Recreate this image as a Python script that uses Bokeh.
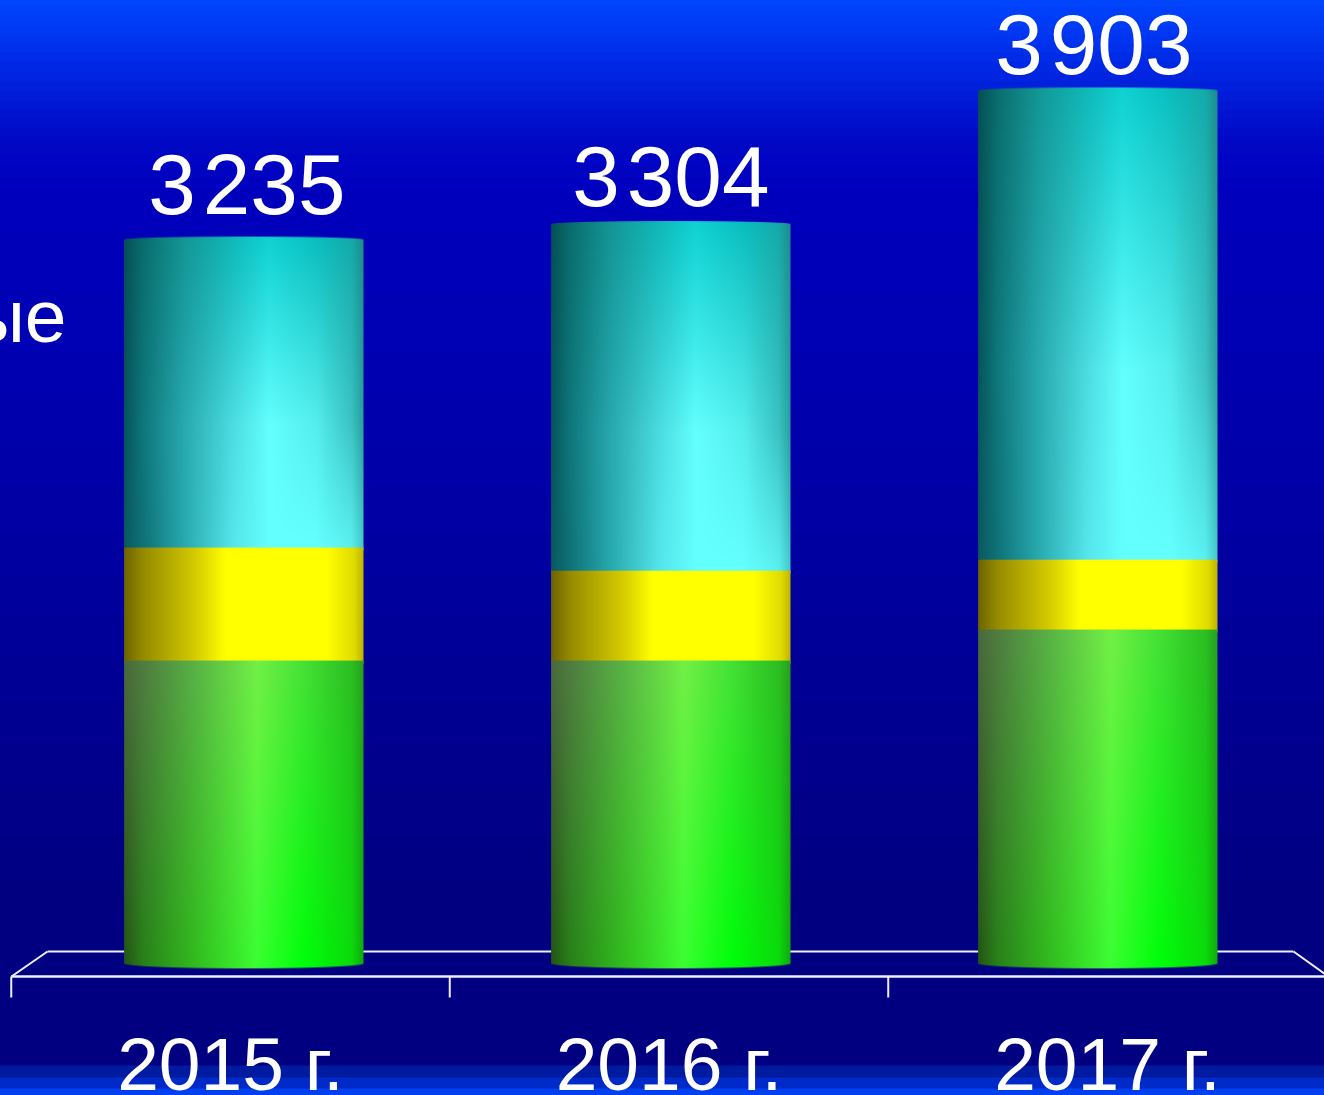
import numpy as np
from bokeh.plotting import figure
from bokeh.models import Range1d
from bokeh.core.properties import value
from bokeh.embed import file_html
from bokeh.resources import INLINE

# ---- chart data -------------------------------------------------------
years = ["2015 г.", "2016 г.", "2017 г."]
green = [1357, 1357, 1495]
yellow = [503, 400, 311]
cyan = [1375, 1547, 2097]
totals = [3235, 3304, 3903]
total_labels = ["3\u200a235", "3\u200a304", "3\u200a903"]
side_label = "ые"

# ---- layout -----------------------------------------------------------
W, H = 1324, 1095
PAD = 2           # the frame runs this far past the window, hiding its clip edge
BASE = 965.0      # pixel row of value 0
K = 0.2247        # pixels per unit
CX0, STEP = 243.3, 427.0
HALF = 119.7 / STEP
AX0, AXSTEP = 230.0, 438.5
FONT = "Liberation Sans"
BASELINE_FIX = 0.36   # em: svg text sits this far below the asked baseline


def val(py):
    return (BASE - py) / K


def ax(px):
    return (px - AX0) / AXSTEP


def pack(rgb, a=None):
    rgb = np.clip(rgb, 0, 255).astype(np.uint32)
    if a is None:
        a = np.full(rgb.shape[:2], 255.0)
    a = np.clip(a, 0, 255).astype(np.uint32)
    return rgb[..., 0] | (rgb[..., 1] << 8) | (rgb[..., 2] << 16) | (a << 24)


p = figure(width=W + 2 * PAD, height=H + 2 * PAD, output_backend="svg", toolbar_location=None,
           x_range=Range1d((-PAD - CX0) / STEP, (W + PAD - CX0) / STEP),
           y_range=Range1d(val(H + PAD), val(-PAD)), min_border=0,
           outline_line_color=None, border_fill_color="#000080",
           background_fill_color="#000080")
p.extra_x_ranges["axis"] = Range1d(ax(-PAD), ax(W + PAD))
p.styles = {"position": "fixed", "left": f"{-PAD}px", "top": f"{-PAD}px"}
p.xaxis.visible = False
p.yaxis.visible = False
p.grid.visible = False

# ---- background gradient ---------------------------------------------
bg_py = np.array([0, 30, 60, 100, 140, 200, 350, 520, 700, 900, 1065])
bg_r = np.zeros(len(bg_py))
bg_g = np.array([70, 58, 44, 28, 10, 0, 0, 0, 0, 0, 0])
bg_b = np.array([255, 245, 232, 215, 200, 190, 180, 165, 148, 130, 128])
OVER = 12
rows = np.arange(-OVER, H + OVER)
bg = np.stack([np.interp(rows, bg_py, bg_r),
               np.interp(rows, bg_py, bg_g),
               np.interp(rows, bg_py, bg_b)], axis=-1)
bg = np.floor(bg / 4) * 4
bg[(rows >= 1065) & (rows < 1077)] = (0, 26, 160)
bg[(rows >= 1077) & (rows < 1088)] = (0, 42, 200)
bg[rows >= 1088] = (0, 64, 240)
bg_img = pack(bg[::-1][:, None, :])
p.image_rgba(image=[bg_img], x=[(-OVER - CX0) / STEP], y=[val(H + OVER)],
             dw=[(W + 2 * OVER) / STEP], dh=[val(-OVER) - val(H + OVER)])

# ---- shading of the cylinders -----------------------------------------
GREEN_T = [0, .08, .3, .55, .75, .95, 1]
GREEN_TOP = [(75, 105, 60), (80, 125, 65), (90, 180, 70), (115, 240, 70),
             (70, 225, 55), (45, 190, 35), (40, 160, 30)]
GREEN_BOT = [(35, 85, 20), (40, 130, 25), (50, 190, 30), (60, 255, 50),
             (0, 255, 10), (10, 220, 10), (15, 170, 15)]
YELLOW_T = [0, .08, .3, .42, .85, .96, 1]
YELLOW_C = [(110, 100, 0), (150, 140, 0), (215, 205, 0), (255, 255, 0),
            (255, 255, 0), (225, 220, 0), (190, 180, 0)]
CYAN_T = [0, .08, .25, .45, .6, .8, .95, 1]
CYAN_TOP = [(5, 80, 85), (10, 110, 110), (20, 150, 150), (15, 185, 185),
            (15, 210, 210), (10, 190, 190), (20, 170, 170), (30, 140, 140)]
CYAN_MID = [(5, 85, 90), (15, 120, 125), (40, 170, 175), (75, 220, 225),
            (100, 255, 255), (85, 238, 238), (60, 195, 195), (40, 160, 160)]
CYAN_BOT = [(10, 90, 95), (15, 115, 120), (40, 170, 175), (85, 230, 235),
            (100, 255, 255), (100, 255, 255), (90, 240, 240), (70, 200, 200)]


def ramp(ts, stops, t):
    s = np.array(stops, float)
    return np.stack([np.interp(t, ts, s[:, c]) for c in range(3)], axis=-1)


def shade(kind, t, v):
    if kind == "green":
        a, b = ramp(GREEN_T, GREEN_TOP, t), ramp(GREEN_T, GREEN_BOT, t)
        return a + (b - a) * v[..., None]
    if kind == "yellow":
        return ramp(YELLOW_T, YELLOW_C, t)
    a, m, b = ramp(CYAN_T, CYAN_TOP, t), ramp(CYAN_T, CYAN_MID, t), ramp(CYAN_T, CYAN_BOT, t)
    k = (v / 0.6)[..., None]
    k2 = ((v - 0.6) / 0.4)[..., None]
    return np.where(v[..., None] < 0.6, a + (m - a) * k, m + (b - m) * k2)


def segment(i, lo, hi, kind, arc_top=False, arc_bot=False):
    """One band of cylinder i, from value lo to value hi, with the curved end caps."""
    pad_t = 3 if arc_top else 0
    pad_b = 5 if arc_bot else 3     # runs under the band below, hides the seam
    top_px = BASE - hi * K - pad_t
    bot_px = BASE - lo * K + pad_b
    nr = max(2, int(round(bot_px - top_px)))
    nc = 240
    t = (np.arange(nc) + .5) / nc
    py = top_px + (np.arange(nr) + .5) * (bot_px - top_px) / nr
    T, Y = np.meshgrid(t, py)
    span = K * (hi - lo)
    V = np.clip((Y - (BASE - hi * K)) / span, 0, 1)
    rgb = shade(kind, T, V)
    alpha = np.full(T.shape, 255.0)
    lens = np.sqrt(np.clip(1 - (2 * T - 1) ** 2, 0, 1))
    if arc_top:
        edge = (BASE - hi * K) + 2 - 3 * lens
        alpha = np.minimum(alpha, np.clip(Y - edge + .5, 0, 1) * 255)
    if arc_bot:
        edge = BASE - 2 + 5 * lens
        alpha = np.minimum(alpha, np.clip(edge - Y + .5, 0, 1) * 255)
    img = pack(rgb[::-1], alpha[::-1])
    p.image_rgba(image=[img], x=[i - HALF], y=[val(bot_px)], dw=[2 * HALF],
                 dh=[val(top_px) - val(bot_px)])


# ---- 3-D floor and axis (drawn first, cylinders stand on it) ----------
LINE = "#EEEEF8"
p.segment(x0=[ax(47), ax(47), ax(1293)], y0=[val(951)] * 3,
          x1=[ax(1293), ax(11), ax(1328)], y1=[val(951), val(976), val(976)],
          x_range_name="axis", line_color=LINE, line_width=2)
p.segment(x0=[-.5], y0=[val(976)], x1=[2.52], y1=[val(976)],
          x_range_name="axis", line_color=LINE, line_width=2.5)
ticks = [-.5, .5, 1.5]
p.segment(x0=ticks, y0=[val(976)] * 3, x1=ticks, y1=[val(997)] * 3,
          x_range_name="axis", line_color=LINE, line_width=2)

# ---- stacked cylinders, top band first ---------------------------------
for i in range(len(years)):
    g, yl, c = green[i], yellow[i], cyan[i]
    segment(i, g + yl, g + yl + c, "cyan", arc_top=True)
    segment(i, g, g + yl, "yellow")
    segment(i, 0, g, "green", arc_bot=True)

# ---- texts -------------------------------------------------------------
label_lift = [23, 16, 13]
label_shift = [3, 0, -4]
LABEL_SIZE, TICK_SIZE, SIDE_SIZE = 85.5, 75, 75
p.text(x=list(range(3)), y=totals, text=total_labels,
       x_offset=label_shift,
       y_offset=[-(v + BASELINE_FIX * LABEL_SIZE) for v in label_lift],
       text_font=value(FONT), text_font_size=f"{LABEL_SIZE}px", text_color="white",
       text_align="center", text_baseline="alphabetic")
p.text(x=[0, 1, 2], y=[val(1090)] * 3, text=years, x_range_name="axis",
       y_offset=-BASELINE_FIX * TICK_SIZE,
       text_font=value(FONT), text_font_size=f"{TICK_SIZE}px", text_color="white",
       text_align="center", text_baseline="alphabetic")
p.text(x=[(66 - CX0) / STEP], y=[val(342)], text=[side_label],
       y_offset=-BASELINE_FIX * SIDE_SIZE,
       text_font=value(FONT), text_font_size=f"{SIDE_SIZE}px", text_color="white",
       text_align="right", text_baseline="alphabetic")

open("out.html", "w").write(file_html(p, INLINE))
